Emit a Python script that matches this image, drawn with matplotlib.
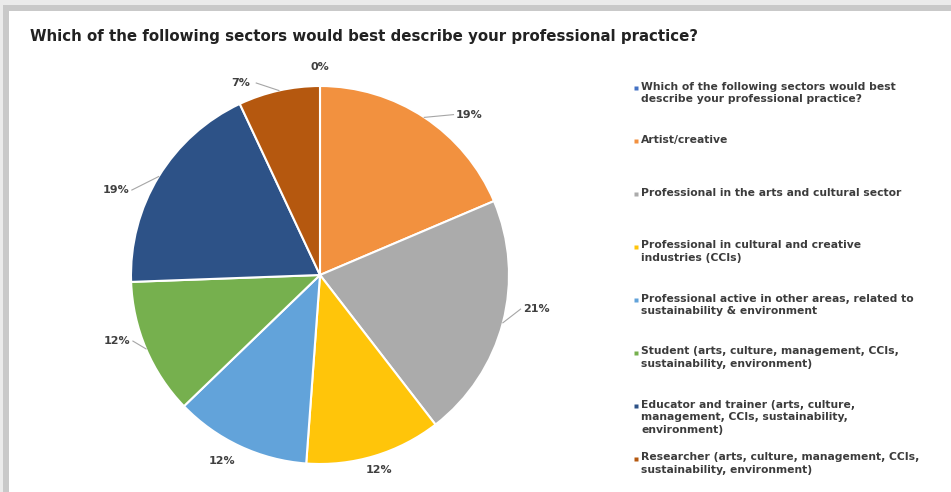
import numpy as np
import matplotlib.pyplot as plt
from matplotlib.patches import Rectangle

W, H = 951, 492

title = "Which of the following sectors would best describe your professional practice?"
sectors = [
    "Which of the following sectors would best\ndescribe your professional practice?",
    "Artist/creative",
    "Professional in the arts and cultural sector",
    "Professional in cultural and creative\nindustries (CCIs)",
    "Professional active in other areas, related to\nsustainability & environment",
    "Student (arts, culture, management, CCIs,\nsustainability, environment)",
    "Educator and trainer (arts, culture,\nmanagement, CCIs, sustainability,\nenvironment)",
    "Researcher (arts, culture, management, CCIs,\nsustainability, environment)",
]
counts = [0, 8, 9, 5, 5, 5, 8, 3]
colors = ["#4472C4", "#F2913F", "#ABABAB", "#FFC50A",
          "#62A3DA", "#76B04E", "#2D5287", "#B5580F"]

# label placement per slice: (clockwise shift in deg, radius factor, leader line)
label_style = [(0, 1.10, False), (9.5, 1.16, True), (-5.7, 1.16, True),
               (0, 1.08, False), (2.7, 1.11, False), (5, 1.13, True),
               (-8.8, 1.17, True), (-10, 1.10, True)]

fig = plt.figure(figsize=(W / 100, H / 100), dpi=100)
ax = fig.add_axes([0, 0, 1, 1])

# page frame: light outer band, darker border on top and left
ax.add_patch(Rectangle((0, H - 5), W, 5, color="#ebebeb", lw=0))
ax.add_patch(Rectangle((0, H - 11), W, 6, color="#c9c9c9", lw=0))
ax.add_patch(Rectangle((0, 0), 3, H - 5, color="#ebebeb", lw=0))
ax.add_patch(Rectangle((3, 0), 6, H - 5, color="#c9c9c9", lw=0))

ax.text(30, H - 36, title, fontsize=10.85, fontweight="bold", color="#222222",
        va="center", ha="left")

cx, cy, R = 320, H - 275, 189
wedges, _ = ax.pie(counts, colors=colors, startangle=90, counterclock=False,
                   center=(cx, cy), radius=R, frame=True,
                   wedgeprops=dict(edgecolor="white", linewidth=1.5))
ax.set_xlim(0, W)
ax.set_ylim(0, H)
ax.set_aspect("equal")
ax.axis("off")

total = sum(counts)
for w, c, (shift, dist, leader) in zip(wedges, counts, label_style):
    mid = np.deg2rad((w.theta1 + w.theta2) / 2)
    ang = mid - np.deg2rad(shift)
    lx = cx + R * dist * np.cos(ang)
    ly = cy + R * dist * np.sin(ang)
    ax.text(lx, ly, f"{round(100 * c / total)}%", fontsize=8, fontweight="bold",
            color="#404040", ha="center", va="center")
    if leader:
        ex = cx + R * np.cos(mid)
        ey = cy + R * np.sin(mid)
        side = 1 if lx > cx else -1
        ax.plot([ex, lx - side * 16], [ey, ly], color="#a6a6a6", lw=0.8)

# legend entries, evenly spaced down the right side
for i, (name, col) in enumerate(zip(sectors, colors)):
    y = H - (88 + 53 * i)
    ax.plot(636, y, marker="s", ms=3.5, color=col, mec="none")
    ax.text(641, y + 6.5, name, fontsize=7.75, fontweight="bold", color="#3c3c3c",
            ha="left", va="top", linespacing=1.32)

fig.savefig("out.png", dpi=100, facecolor="white")
